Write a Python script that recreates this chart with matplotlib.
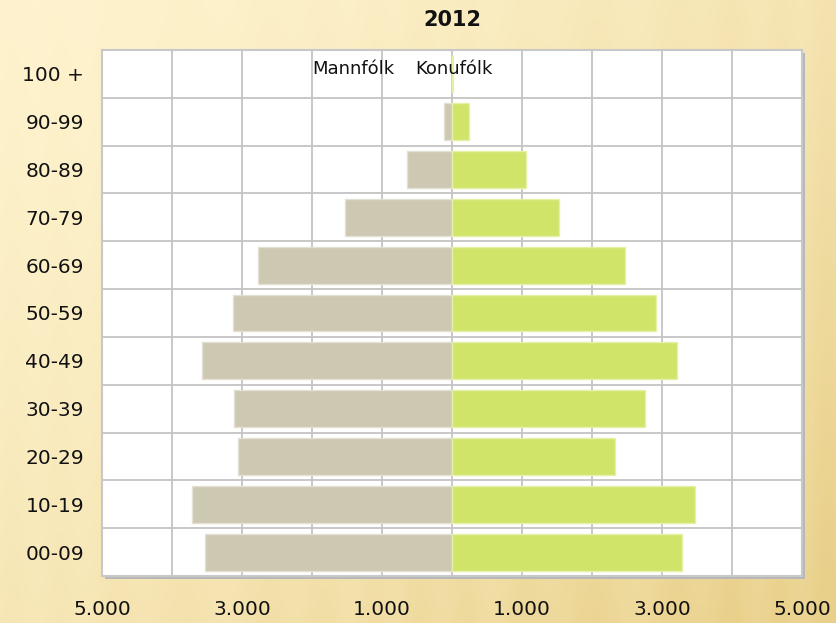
import numpy as np
import matplotlib
matplotlib.use("Agg")
import matplotlib.pyplot as plt
from matplotlib.patches import Rectangle
from matplotlib.ticker import FixedLocator, FuncFormatter

# ---- data ----
age_groups = ["00-09", "10-19", "20-29", "30-39", "40-49", "50-59",
              "60-69", "70-79", "80-89", "90-99", "100 +"]
men = [3524, 3714, 3053, 3119, 3567, 3133, 2776, 1523, 647, 114, 5]
women = [3286, 3467, 2333, 2757, 3219, 2910, 2476, 1524, 1061, 243, 12]
x_ticks = [-5000, -3000, -1000, 1000, 3000, 5000]
grid_x = list(range(-5000, 5001, 1000))
title = "2012"
label_men = "Mannfólk"
label_women = "Konufólk"

W, H = 836, 623
fig = plt.figure(figsize=(W / 100, H / 100), dpi=100)

# ---- background (wood-like cream gradient) ----
bg = fig.add_axes([0, 0, 1, 1], zorder=-10)
bg.set_axis_off()
xx = np.linspace(0, 1, 400)
yy = np.linspace(0, 1, 300)
X, Y = np.meshgrid(xx, yy)
light = np.array([254, 243, 206]) / 255.0
dark = np.array([233, 208, 138]) / 255.0
t = np.clip(0.55 * X + 0.45 * Y, 0, 1) ** 1.4
stripes = 0.05 * np.sin(X * 90 + 2 * np.sin(X * 13)) + 0.03 * np.sin(X * 37 + 1.3)
t = np.clip(t + stripes * (0.2 + t), 0, 1)
img = light[None, None, :] * (1 - t[..., None]) + dark[None, None, :] * t[..., None]
bg.imshow(img, extent=[0, 1, 0, 1], aspect="auto", origin="upper")
bg.set_xlim(0, 1)
bg.set_ylim(0, 1)

# ---- plot area ----
left, right, top, bottom = 102, 802, 50, 576
ax_rect = [left / W, 1 - bottom / H, (right - left) / W, (bottom - top) / H]

# shadow behind plot area
fig.patches.append(Rectangle((ax_rect[0] + 3 / W, ax_rect[1] - 3 / H), ax_rect[2], ax_rect[3],
                             transform=fig.transFigure, facecolor="#B8B8B8",
                             edgecolor="none", zorder=-5))

ax = fig.add_axes(ax_rect, zorder=1)
ax.set_facecolor("white")

y = np.arange(len(age_groups))
men_neg = [-v for v in men]
ax.barh(y, men_neg, height=0.77, color="#CDC8B2", edgecolor="#E4E1D4", linewidth=1, zorder=3)
ax.barh(y, women, height=0.77, color="#D0E46A", edgecolor="#E6F0A8", linewidth=1, zorder=3)

ax.set_xlim(-5000, 5000)
ax.set_ylim(-0.5, len(age_groups) - 0.5)

ax.xaxis.set_major_locator(FixedLocator(x_ticks))
ax.xaxis.set_major_formatter(FuncFormatter(lambda v, p: f"{abs(int(v)):,}".replace(",", ".")))
ax.set_yticks(y)
ax.set_yticklabels(age_groups)

for gx in grid_x:
    ax.axvline(gx, color="#C4C4C4", linewidth=1.3, zorder=1)
for gy in np.arange(-0.5, len(age_groups), 1.0):
    ax.axhline(gy, color="#C4C4C4", linewidth=1.3, zorder=1)

ax.tick_params(axis="both", which="both", length=0)
ax.tick_params(axis="x", labelsize=14.5, pad=17, colors="#111111")
ax.tick_params(axis="y", labelsize=14.5, pad=13, colors="#111111")

for s in ax.spines.values():
    s.set_color("#C8C8C8")
    s.set_linewidth(1.5)

# legend-like labels
ax.text(0.30, 0.964, label_men, transform=ax.transAxes, fontsize=13,
        ha="left", va="center", color="#111111", zorder=5)
ax.text(0.447, 0.964, label_women, transform=ax.transAxes, fontsize=13,
        ha="left", va="center", color="#111111", zorder=5)

fig.text(452 / W, 1 - 20 / H, title, fontsize=15, fontweight="bold",
         ha="center", va="center", color="#111111")

fig.savefig("out.png", dpi=100)
